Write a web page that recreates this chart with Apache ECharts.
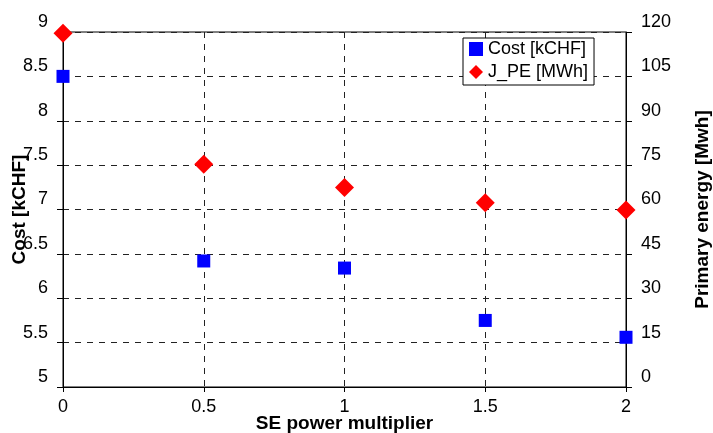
<!DOCTYPE html>
<html><head><meta charset="utf-8">
<script src="https://cdn.jsdelivr.net/npm/echarts@6/dist/echarts.min.js"></script>
<style>html,body{margin:0;padding:0;background:#fff}#c{width:713px;height:433px}</style>
</head><body><div id="c"></div>
<script>
const multipliers = [0, 0.5, 1, 1.5, 2];
const costValues = [8.5, 6.42, 6.34, 5.75, 5.56];
const jpeValues = [119.6, 75.3, 67.4, 62.3, 59.8];
const seriesNames = ['Cost [kCHF]', 'J_PE [MWh]'];

const font = 'Liberation Sans, Arial, sans-serif';
const chart = echarts.init(document.getElementById('c'), null, {renderer: 'canvas'});
const dashed = {show: true, lineStyle: {color: '#222', type: [6, 6], width: 1}};
const titleStyle = {fontFamily: font, fontSize: 19, fontWeight: 'bold', color: '#000'};
chart.setOption({
  animation: false,
  backgroundColor: '#fff',
  grid: {left: 63, right: 87, top: 32, bottom: 46, outerBoundsMode: 'none', containLabel: false,
         show: true, borderColor: '#000', borderWidth: 1, backgroundColor: 'transparent'},
  legend: {
    orient: 'vertical', left: 463, top: 38, width: 139,
    backgroundColor: '#fff', borderColor: '#000', borderWidth: 1,
    padding: [2, 6, 4, 6], itemGap: 5, itemWidth: 14, itemHeight: 14,
    textStyle: {fontFamily: font, fontSize: 18, color: '#000'},
    data: [{name: seriesNames[0], icon: 'rect'}, {name: seriesNames[1], icon: 'diamond'}]
  },
  xAxis: {
    type: 'value', min: 0, max: 2, interval: 0.5,
    name: 'SE power multiplier', nameLocation: 'middle', nameGap: 27, nameMoveOverlap: false,
    nameTextStyle: titleStyle,
    axisLine: {show: true, onZero: false, lineStyle: {color: '#000'}},
    axisTick: {show: true, length: 5, lineStyle: {color: '#000'}},
    axisLabel: {fontFamily: font, fontSize: 18, color: '#000', margin: 11},
    splitLine: dashed
  },
  yAxis: [{
    type: 'value', min: 5, max: 9, interval: 0.5, position: 'left',
    name: 'Cost [kCHF]', nameLocation: 'middle', nameGap: 34, nameMoveOverlap: false,
    nameTextStyle: titleStyle,
    axisLine: {show: true, lineStyle: {color: '#000'}},
    axisTick: {show: true, length: 6, lineStyle: {color: '#000'}},
    axisLabel: {fontFamily: font, fontSize: 18, color: '#000', margin: 15, verticalAlign: 'bottom', lineHeight: 20},
    splitLine: dashed
  }, {
    type: 'value', min: 0, max: 120, interval: 15, position: 'right',
    name: 'Primary energy [Mwh]', nameLocation: 'middle', nameGap: 67, nameMoveOverlap: false,
    nameTextStyle: titleStyle,
    axisLine: {show: true, lineStyle: {color: '#000'}},
    axisTick: {show: true, length: 6, lineStyle: {color: '#000'}},
    axisLabel: {fontFamily: font, fontSize: 18, color: '#000', margin: 15, verticalAlign: 'bottom', lineHeight: 20},
    splitLine: {show: false}
  }],
  series: [{
    name: seriesNames[0], type: 'scatter', yAxisIndex: 0, clip: false,
    symbol: 'rect', symbolSize: 13, itemStyle: {color: '#0000ff', opacity: 1},
    data: multipliers.map((m, i) => [m, costValues[i]])
  }, {
    name: seriesNames[1], type: 'scatter', yAxisIndex: 1, clip: false,
    symbol: 'diamond', symbolSize: 19, itemStyle: {color: '#ff0000', opacity: 1},
    data: multipliers.map((m, i) => [m, jpeValues[i]])
  }]
});
</script></body></html>
